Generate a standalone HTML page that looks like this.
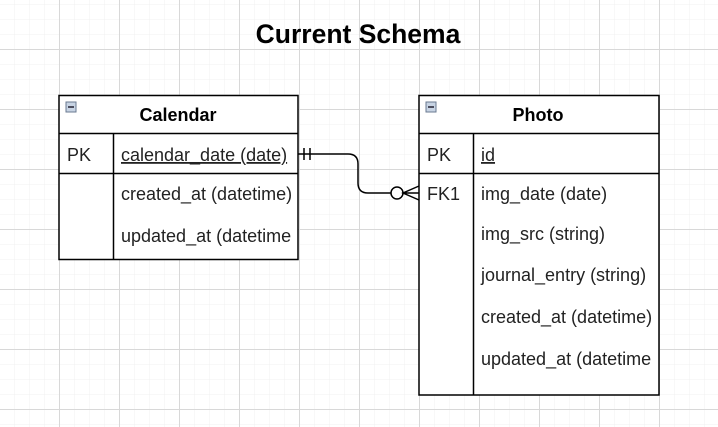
<!DOCTYPE html>
<html><head><style>
html,body{margin:0;padding:0;background:#fff;}
svg{display:block;}
text{font-family:"Liberation Sans",Arial,sans-serif;}
</style></head><body>
<svg width="718" height="427" viewBox="0 0 718 427" xmlns="http://www.w3.org/2000/svg">
<defs>
<pattern id="minor" x="14" y="4" width="15" height="15" patternUnits="userSpaceOnUse">
<path d="M0 0H15M0 0V15" stroke="#f0f0f0" stroke-width="1" fill="none"/>
</pattern>
<pattern id="major" x="59" y="49" width="60" height="60" patternUnits="userSpaceOnUse">
<path d="M0 0.5H60M0.5 0V60" stroke="#d8d8d8" stroke-width="1" fill="none"/>
</pattern>
</defs>
<rect width="718" height="427" fill="url(#minor)"/>
<rect width="718" height="427" fill="url(#major)"/>
<text x="358" y="43" font-size="26.5" font-weight="bold" text-anchor="middle">Current Schema</text>

<!-- Calendar -->
<g stroke="#000" stroke-width="1.5" fill="none">
<rect x="59" y="95.5" width="239" height="164" fill="#fff"/>
<line x1="59" y1="133.5" x2="298" y2="133.5"/>
<line x1="59" y1="173.5" x2="298" y2="173.5"/>
<line x1="113.5" y1="133.5" x2="113.5" y2="259.5"/>
</g>
<rect x="66" y="102" width="10" height="10" fill="#c8d4e4" stroke="#6a7a90" stroke-width="1"/>
<line x1="68" y1="107" x2="74" y2="107" stroke="#223" stroke-width="1.5"/>
<text x="178" y="121" font-size="18" font-weight="bold" text-anchor="middle">Calendar</text>
<g font-size="18" fill="#222">
<text x="67" y="161">PK</text>
<text x="121" y="161" text-decoration="underline">calendar_date (date)</text>
<text x="121" y="200">created_at (datetime)</text>
<text x="121" y="242">updated_at (datetime</text>
</g>

<!-- Photo -->
<g stroke="#000" stroke-width="1.5" fill="none">
<rect x="419" y="95.5" width="240" height="299.5" fill="#fff"/>
<line x1="419" y1="133.5" x2="659" y2="133.5"/>
<line x1="419" y1="173.5" x2="659" y2="173.5"/>
<line x1="473.5" y1="133.5" x2="473.5" y2="395"/>
</g>
<rect x="426" y="102" width="10" height="10" fill="#c8d4e4" stroke="#6a7a90" stroke-width="1"/>
<line x1="428" y1="107" x2="434" y2="107" stroke="#223" stroke-width="1.5"/>
<text x="538" y="121" font-size="18" font-weight="bold" text-anchor="middle">Photo</text>
<g font-size="18" fill="#222">
<text x="427" y="161">PK</text>
<text x="481" y="161" text-decoration="underline">id</text>
<text x="427" y="200">FK1</text>
<text x="481" y="200">img_date (date)</text>
<text x="481" y="240">img_src (string)</text>
<text x="481" y="281">journal_entry (string)</text>
<text x="481" y="323">created_at (datetime)</text>
<text x="481" y="365">updated_at (datetime</text>
</g>

<!-- connector -->
<g stroke="#000" stroke-width="1.5" fill="none">
<path d="M298 154 H348 Q358 154 358 164 V183 Q358 193 368 193 H391"/>
<line x1="304" y1="148" x2="304" y2="160"/>
<line x1="310" y1="148" x2="310" y2="160"/>
<circle cx="397" cy="193" r="6" fill="#fff"/>
<path d="M419 186 L403 193 L419 200 M403 193 H419"/>
</g>
</svg>
</body></html>
